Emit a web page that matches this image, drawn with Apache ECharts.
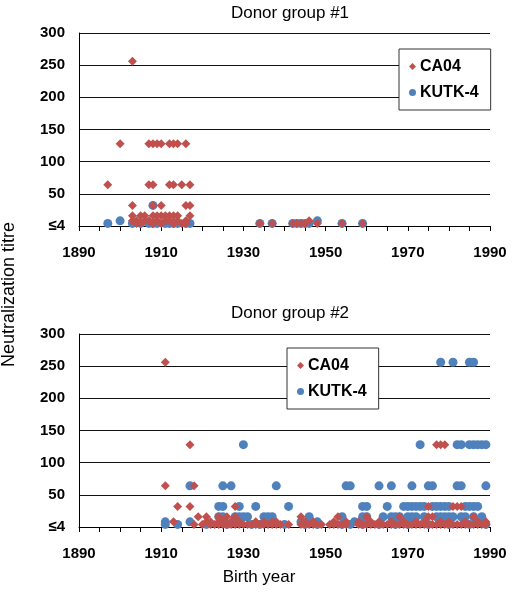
<!DOCTYPE html>
<html>
<head>
<meta charset="utf-8">
<script src="https://cdn.jsdelivr.net/npm/echarts@6/dist/echarts.min.js"></script>
<style>
html,body{margin:0;padding:0;background:#fff;}
#chart{width:518px;height:599px;}
</style>
</head>
<body>
<div id="chart"></div>
<script>
// ---- Data: [birth year, neutralization titre] (≤4 plotted at 4) ----
const yTickLabels = ['≤4', '50', '100', '150', '200', '250', '300'];
const xTicks = [1890, 1910, 1930, 1950, 1970, 1990];

const g1CA04 = [
  [1903,256],
  [1900,128],[1907,128],[1908,128],[1909,128],[1910,128],[1912,128],[1913,128],[1914,128],[1916,128],
  [1897,64],[1907,64],[1908,64],[1912,64],[1913,64],[1915,64],[1917,64],
  [1903,32],[1908,32],[1910,32],[1916,32],[1917,32],
  [1903,16],[1905,16],[1906,16],[1908,16],[1909,16],[1910,16],[1911,16],[1912,16],[1913,16],[1914,16],[1917,16],
  [1903,8],[1904,8],[1906,8],[1907,8],[1909,8],[1911,8],[1912,8],[1914,8],[1916,8],[1946,8],
  [1904,4],[1905,4],[1908,4],[1910,4],[1913,4],[1915,4],[1916,4],[1934,4],[1937,4],[1942,4],[1943,4],[1944,4],[1945,4],[1948,4],[1954,4],[1959,4]
];
const g1KUTK4 = [
  [1908,32],
  [1900,8],[1948,8],
  [1897,4],[1903,4],[1905,4],[1907,4],[1908,4],[1909,4],[1911,4],[1912,4],[1913,4],[1914,4],[1916,4],[1917,4],
  [1934,4],[1937,4],[1942,4],[1943,4],[1944,4],[1945,4],[1946,4],[1954,4],[1959,4]
];
const g2CA04 = [
  [1911,256],
  [1917,128],[1977,128],[1978,128],[1979,128],
  [1911,64],[1918,64],
  [1914,32],[1917,32],[1928,32],[1975,32],[1981,32],[1982,32],[1983,32],
  [1919,16],[1921,16],[1924,16],[1926,16],[1928,16],[1944,16],[1953,16],[1960,16],[1968,16],[1975,16],[1976,16],[1986,16],
  [1913,8],[1921,8],[1922,8],[1924,8],[1925,8],[1927,8],[1929,8],[1933,8],[1935,8],[1937,8],[1938,8],[1945,8],[1947,8],
  [1952,8],[1955,8],[1958,8],[1961,8],[1963,8],[1966,8],[1969,8],[1972,8],[1974,8],[1978,8],[1980,8],[1984,8],[1987,8],[1989,8],
  [1918,4],[1920,4],[1922,4],[1923,4],[1924,4],[1925,4],[1926,4],[1927,4],[1928,4],[1929,4],[1930,4],[1931,4],[1932,4],
  [1933,4],[1934,4],[1935,4],[1936,4],[1937,4],[1938,4],[1939,4],[1941,4],[1944,4],[1945,4],[1946,4],[1947,4],[1948,4],
  [1949,4],[1951,4],[1952,4],[1953,4],[1954,4],[1955,4],[1958,4],[1959,4],[1960,4],[1961,4],[1962,4],[1963,4],[1964,4],
  [1965,4],[1966,4],[1967,4],[1968,4],[1969,4],[1970,4],[1971,4],[1972,4],[1973,4],[1974,4],[1975,4],[1976,4],[1977,4],
  [1978,4],[1979,4],[1980,4],[1981,4],[1982,4],[1983,4],[1984,4],[1985,4],[1986,4],[1987,4],[1988,4],[1989,4]
];
const g2KUTK4 = [
  [1978,256],[1981,256],[1985,256],[1986,256],
  [1930,128],[1973,128],[1982,128],[1983,128],[1985,128],[1986,128],[1987,128],[1988,128],[1989,128],
  [1917,64],[1925,64],[1927,64],[1938,64],[1955,64],[1956,64],[1963,64],[1966,64],[1971,64],[1975,64],[1976,64],[1982,64],[1983,64],[1989,64],
  [1924,32],[1925,32],[1929,32],[1933,32],[1941,32],[1959,32],[1960,32],[1965,32],[1969,32],[1970,32],[1971,32],[1972,32],
  [1973,32],[1974,32],[1976,32],[1977,32],[1978,32],[1979,32],[1980,32],[1984,32],[1985,32],[1986,32],[1987,32],
  [1924,16],[1925,16],[1928,16],[1929,16],[1930,16],[1931,16],[1935,16],[1936,16],[1937,16],[1946,16],[1954,16],[1959,16],
  [1960,16],[1964,16],[1966,16],[1967,16],[1968,16],[1970,16],[1971,16],[1972,16],[1974,16],[1977,16],[1978,16],[1979,16],
  [1980,16],[1981,16],[1983,16],[1984,16],[1986,16],[1988,16],
  [1911,8],[1917,8],[1944,8],[1948,8],[1957,8],
  [1911,4],[1914,4],[1921,4],[1926,4],[1932,4],[1934,4],[1940,4],[1945,4],[1948,4],[1954,4],[1956,4],[1959,4],[1963,4],
  [1967,4],[1970,4],[1975,4],[1980,4],[1985,4],[1989,4]
];

const RED = '#C0504D', BLUE = '#4F81BD';
const FONT = "'Liberation Sans', Arial, sans-serif";

function xAxisCfg(gi) {
  return {
    gridIndex: gi, type: 'value', min: xTicks[0], max: xTicks[xTicks.length - 1], interval: 20,
    axisLine: { lineStyle: { color: '#000', width: 1 } },
    axisTick: { show: true, length: 5, lineStyle: { color: '#000' } },
    minorTick: { show: true, splitNumber: 4, length: 5, lineStyle: { color: '#000' } },
    splitLine: { show: false },
    axisLabel: { fontFamily: FONT, fontWeight: 'bold', fontSize: 15, color: '#000', margin: 19,
      formatter: v => String(v) }
  };
}
function yAxisCfg(gi) {
  return {
    gridIndex: gi, type: 'value', min: 0, max: 300, interval: 50,
    axisLine: { show: true, lineStyle: { color: '#000', width: 1 } },
    axisTick: { show: false },
    splitLine: { show: true, lineStyle: { color: '#111', width: 1 } },
    axisLabel: {
      fontFamily: FONT, fontWeight: 'bold', fontSize: 15, color: '#000', margin: 14,
      formatter: v => yTickLabels[Math.round(v / 50)]
    }
  };
}
function legendCfg(left, top) {
  return {
    orient: 'vertical', left: left, top: top,
    data: [{ name: 'CA04', icon: 'diamond' }, { name: 'KUTK-4', icon: 'circle' }],
    itemWidth: 7, itemHeight: 7, itemGap: 9,
    padding: [9, 12, 9, 10],
    borderColor: '#333', borderWidth: 1, backgroundColor: '#fff',
    textStyle: { fontFamily: FONT, fontWeight: 'bold', fontSize: 16, color: '#000', padding: [0, 0, 0, -1], lineHeight: 17 },
    selectedMode: false
  };
}
function sc(name, data, gi, color, symbol, size, z) {
  return {
    name: name, type: 'scatter', xAxisIndex: gi, yAxisIndex: gi, data: data,
    symbol: symbol, symbolSize: size, z: z,
    itemStyle: { color: color, opacity: 1 }, animation: false
  };
}

const chart = echarts.init(document.getElementById('chart'), null, { renderer: 'canvas' });
chart.setOption({
  backgroundColor: '#fff',
  animation: false,
  title: [
    { text: 'Donor group #1', left: 285, top: 0, textAlign: 'center',
      textStyle: { fontFamily: FONT, fontWeight: 'normal', fontSize: 17, color: '#000' } },
    { text: 'Donor group #2', left: 285, top: 300, textAlign: 'center',
      textStyle: { fontFamily: FONT, fontWeight: 'normal', fontSize: 17, color: '#000' } }
  ],
  grid: [
    { left: 79, top: 33, width: 411, height: 193 },
    { left: 79, top: 334, width: 411, height: 193 }
  ],
  xAxis: [xAxisCfg(0), xAxisCfg(1)],
  yAxis: [yAxisCfg(0), yAxisCfg(1)],
  legend: [legendCfg(399, 49), legendCfg(287, 348)],
  graphic: [
    { type: 'text', left: 0, top: 222, rotation: Math.PI / 2,
      style: { text: 'Neutralization titre', font: "18px 'Liberation Sans', Arial, sans-serif", fill: '#000' } },
    { type: 'text', left: 'center', top: 569,
      style: { text: 'Birth year', font: "17px 'Liberation Sans', Arial, sans-serif", fill: '#000' } }
  ],
  series: [
    sc('KUTK-4', g1KUTK4, 0, BLUE, 'circle', 9, 2),
    sc('CA04', g1CA04, 0, RED, 'diamond', 9, 3),
    sc('KUTK-4', g2KUTK4, 1, BLUE, 'circle', 9, 2),
    sc('CA04', g2CA04, 1, RED, 'diamond', 9, 3)
  ]
});
</script>
</body>
</html>
